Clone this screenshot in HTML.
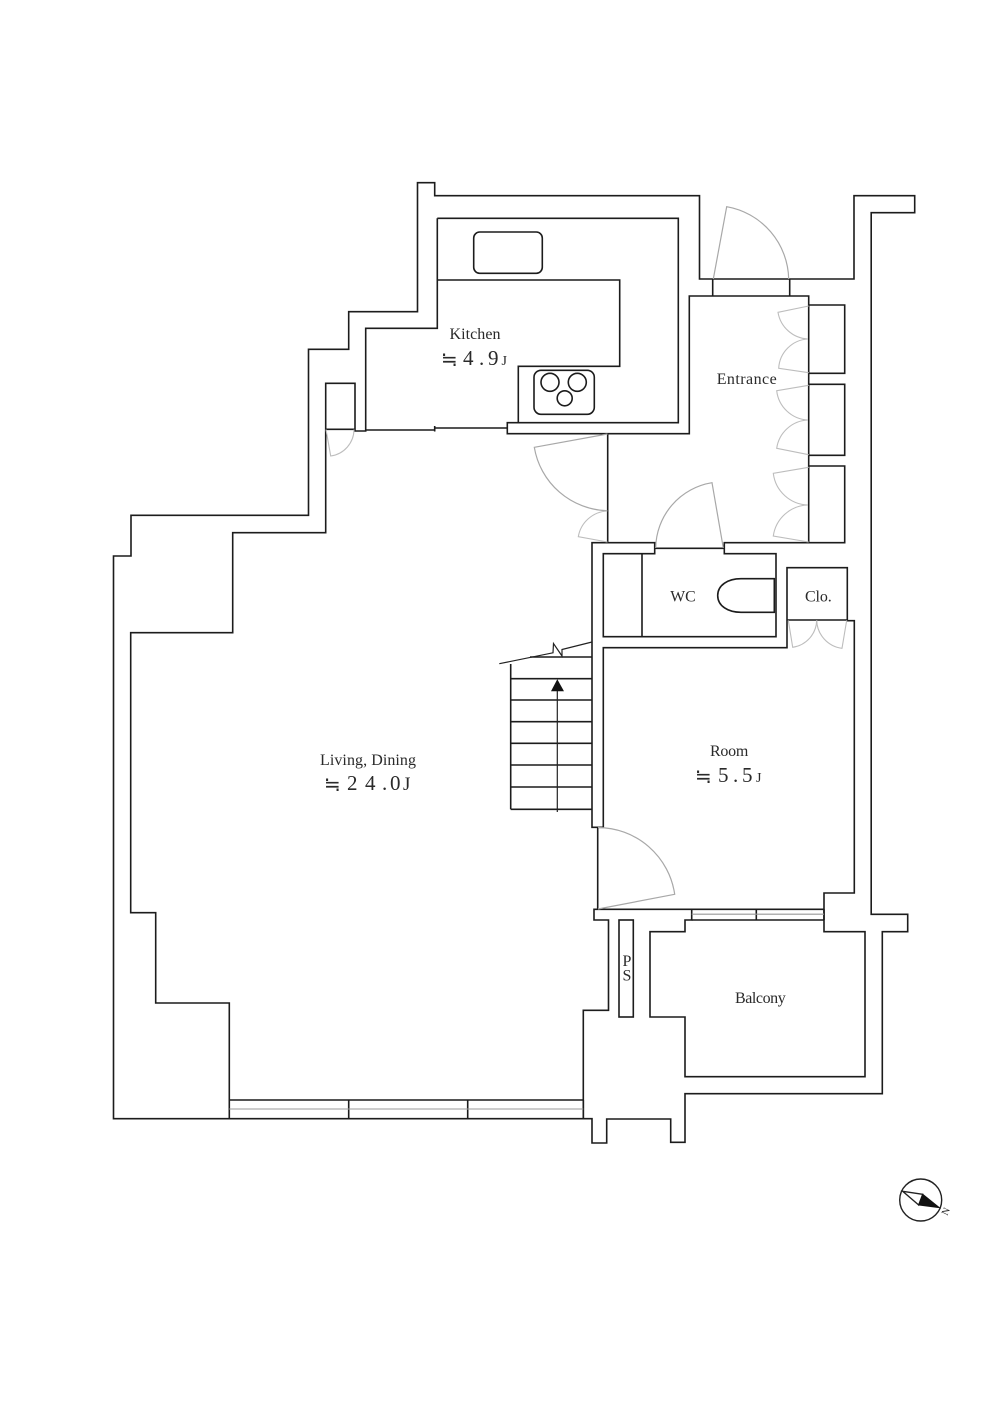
<!DOCTYPE html>
<html><head><meta charset="utf-8"><style>
html,body{margin:0;padding:0;background:#fff;width:999px;height:1414px;overflow:hidden}
svg{display:block}
.w{fill:none;stroke:#1c1c1c;stroke-width:1.6;stroke-linejoin:miter}
.d{fill:none;stroke:#a8a8a8;stroke-width:1.2}
.l{fill:none;stroke:#bdbdbd;stroke-width:1.1}
.g{fill:none;stroke:#999;stroke-width:1.1}
text{font-family:"Liberation Serif","Noto Serif CJK JP",serif;fill:#2a2a2a;font-size:16px}
.n{font-size:21px}
.a{font-family:"Noto Sans CJK JP","DejaVu Sans",sans-serif;font-size:20px}
</style></head><body>
<svg width="999" height="1414" viewBox="0 0 999 1414" xmlns="http://www.w3.org/2000/svg">
<rect width="999" height="1414" fill="#fff"/>
<!-- outer wall -->
<path class="w" d="M417.5 182.7H434.7V195.7H699.5V279H854V195.7H914.7V212.7H871.2V914.3H907.7V931.7H882.3V1093.7H685V1142.3H670.7V1119H606.7V1143H592V1118.7H113.5V556H131V515.3H308.5V349.3H348.7V311.7H417.5Z"/>
<!-- inner wall: living + kitchen + entrance -->
<path class="w" d="M437.3 218.3H678.3V422.7H507.3V433.7H689.3V296H808.7V542.7H724.3V553.7H776V636.7H603.3V553.7H654.7V542.7H592V827.3H603.3V647.7H787V567.7H847.3V620.7H854.3V893H824V931.7H865V1076.7H685V1017H650V931.7H685V920H691.7V909.3H594V920H608.5V1010.3H583.3V1118.7"/>
<path class="w" d="M437.3 218.3V328.3H365.7V431H355V383.3H325.7V532.7H232.7V632.7H130.7V912.7H155.7V1003H229.3V1118.7"/>
<!-- kitchen partition -->
<path class="w" d="M365.7 430H434.7M434.7 428H507.3M434.7 426V431.5"/>
<path class="w" d="M325.7 429.3H355"/>
<!-- counter -->
<path class="w" d="M437.3 280H619.7V366.3H518.3V422.7"/>
<rect class="w" x="473.7" y="232" width="68.6" height="41.3" rx="6"/>
<rect class="w" x="534" y="370.3" width="60.3" height="44" rx="7"/>
<circle class="w" cx="550" cy="382.3" r="9"/>
<circle class="w" cx="577.3" cy="382.3" r="9"/>
<circle class="w" cx="564.7" cy="398.3" r="7.5"/>
<!-- entry -->
<path class="w" d="M712.7 279V296M789.7 279V296"/>
<!-- shoe shelves -->
<path class="w" d="M808.7 305H844.7V373.3H808.7M808.7 384.3H844.7V455.3H808.7M808.7 466H844.7V542.7H808.7"/>
<!-- wall x=608 -->
<path class="w" d="M607.7 433.7V542.7"/>
<!-- WC -->
<path class="w" d="M654.7 548.3H724.3M642 553.7V636.7"/>
<path class="w" d="M774.3 578.7H741C728 578.7 717.7 585 717.7 595.5C717.7 606 728 612.3 741 612.3H774.3Z"/>
<!-- Clo -->
<path class="w" d="M787 620H847.3"/>
<!-- room door jamb -->
<path class="w" d="M597.7 827.3V909.3"/>
<!-- windows -->
<path class="w" d="M229.3 1100H583.3M583.3 1100V1118.7M348.7 1100V1118.7M467.7 1100V1118.7"/>
<path class="g" d="M229.3 1109H583.3"/>
<path class="w" d="M691.7 909.3H824M691.7 920H824M756.3 909.3V920M824 909.3V920"/>
<path class="g" d="M691.7 914.2H824"/>
<!-- PS -->
<rect class="w" x="619" y="920" width="14.3" height="97"/>
<!-- stairs -->
<path class="w" d="M510.7 664V809.3M530 657H592M510.7 678.7H592M510.7 700H592M510.7 721.7H592M510.7 743.3H592M510.7 765H592M510.7 787H592M510.7 809.3H592"/>
<path fill="none" stroke="#222" stroke-width="1.2" d="M499.3 663.7L553 652.8L553.5 643.5L562 656L562 649.5L592 642"/>
<path fill="none" stroke="#222" stroke-width="1.2" d="M557.3 812V690"/>
<path fill="#111" d="M557.3 679.3L564 691.3H551Z"/>
<!-- door arcs -->
<path class="d" d="M607.5 434L534.3 447.3A76 76 0 0 0 607.3 510.7"/>
<path class="l" d="M607.5 542L578.3 536.7A31 31 0 0 1 607.3 511"/>
<path class="d" d="M723.3 548L712 482.7A67 67 0 0 0 655.7 548"/>
<path class="d" d="M713.3 279L726.7 206.7A75 75 0 0 1 788.7 279"/>
<path class="d" stroke-width="1.4" d="M598 909L674.7 894.3A78 78 0 0 0 598 827.5"/>
<path class="l" d="M808.7 306L778 312.3A32 32 0 0 0 808 339"/>
<path class="l" d="M808.7 372.7L778.7 368.3A31 31 0 0 1 808 339"/>
<path class="l" d="M808.7 385.3L776.7 390.7A33 33 0 0 0 808 420"/>
<path class="l" d="M808.7 454.7L776.7 448.3A33 33 0 0 1 808 420"/>
<path class="l" d="M808.7 467.3L773.3 473.3A36 36 0 0 0 808 505"/>
<path class="l" d="M808.7 542L773.3 536A36 36 0 0 1 808 505"/>
<path class="l" d="M788.3 620.3L792.7 647.3A28 28 0 0 0 816.7 620.3"/>
<path class="l" d="M846.7 620.3L842 648.3A29 29 0 0 1 816.7 620.3"/>
<path class="l" d="M326 429.5L330.7 456A27 27 0 0 0 354 429.5"/>
<!-- compass -->
<circle cx="920.7" cy="1200" r="21" fill="none" stroke="#222" stroke-width="1.4"/>
<path fill="none" stroke="#222" stroke-width="1.3" d="M902.7 1191.3L922.7 1194.3L918.7 1205Z"/>
<path fill="#111" stroke="#111" stroke-width="1" d="M922.7 1194.3L939.3 1207.7L918.7 1205Z"/>
<text x="945" y="1215" text-anchor="middle" style="font-size:10px" transform="rotate(-65 945 1211)">N</text>
<!-- labels -->
<text x="449.5" y="339" textLength="51" lengthAdjust="spacing">Kitchen</text>
<text class="a" x="441" y="366">≒</text>
<text class="n" x="463" y="365">4</text><text class="n" x="479" y="365">.</text><text class="n" x="488" y="365">9</text>
<text x="501.5" y="365" style="font-size:14px">J</text>
<text x="320" y="765" textLength="96" lengthAdjust="spacing">Living, Dining</text>
<text class="a" x="324" y="791">≒</text>
<text class="n" x="347" y="790">2</text><text class="n" x="365" y="790">4</text><text class="n" x="382" y="790">.</text><text class="n" x="390" y="790">0</text>
<text x="403" y="790" style="font-size:19px">J</text>
<text x="710" y="756" textLength="38.3" lengthAdjust="spacing">Room</text>
<text class="a" x="695" y="783">≒</text>
<text class="n" x="718" y="782">5</text><text class="n" x="733" y="782">.</text><text class="n" x="742" y="782">5</text>
<text x="756" y="782" style="font-size:14px">J</text>
<text x="716.7" y="384" textLength="60" lengthAdjust="spacing">Entrance</text>
<text x="670.3" y="601.7" textLength="25.4" lengthAdjust="spacingAndGlyphs">WC</text>
<text x="805" y="601.7" textLength="26.7" lengthAdjust="spacing">Clo.</text>
<text x="735" y="1003" textLength="50.7" lengthAdjust="spacing">Balcony</text>
<text x="627" y="966" text-anchor="middle">P</text>
<text x="627" y="980.7" text-anchor="middle">S</text>
</svg>
</body></html>
